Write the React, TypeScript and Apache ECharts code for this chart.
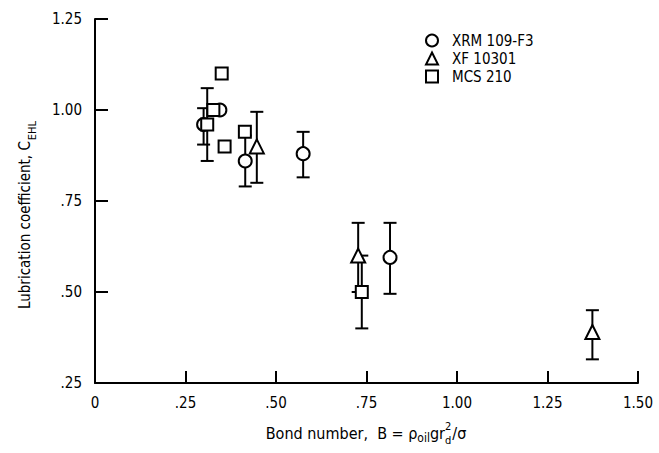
import React, { useEffect, useRef } from "react";
import * as echarts from "echarts";

const FONT = '"DejaVu Sans Condensed", "DejaVu Sans", sans-serif';

// XRM 109-F3 (circles)
const xrmPoints: number[][] = [
  [0.30, 0.96],
  [0.345, 1.0],
  [0.415, 0.86],
  [0.575, 0.88],
  [0.815, 0.595],
];
const xrmErrors: number[][] = [
  [0.30, 0.905, 1.005],
  [0.415, 0.79, 0.93],
  [0.575, 0.815, 0.94],
  [0.815, 0.495, 0.69],
];

// XF 10301 (triangles)
const xfPoints: number[][] = [
  [0.447, 0.90],
  [0.727, 0.60],
  [1.374, 0.39],
];
const xfErrors: number[][] = [
  [0.447, 0.80, 0.995],
  [0.727, 0.50, 0.69],
  [1.374, 0.315, 0.45],
];

// MCS 210 (squares)
const mcsPoints: number[][] = [
  [0.31, 0.96],
  [0.327, 1.0],
  [0.35, 1.10],
  [0.358, 0.90],
  [0.414, 0.94],
  [0.737, 0.50],
];
const mcsErrors: number[][] = [
  [0.31, 0.86, 1.06],
  [0.737, 0.40, 0.60],
];

const seriesNames = ["XRM 109-F3", "XF 10301", "MCS 210"];
const xTickLabels: Record<string, string> = {
  "0": "0", "0.25": ".25", "0.5": ".50", "0.75": ".75", "1": "1.00", "1.25": "1.25", "1.5": "1.50",
};
const yTickLabels: Record<string, string> = {
  "0.25": ".25", "0.5": ".50", "0.75": ".75", "1": "1.00", "1.25": "1.25",
};

function errorRender(params: any, api: any) {
  const x = api.value(0);
  const lo = api.coord([x, api.value(1)]);
  const hi = api.coord([x, api.value(2)]);
  const cap = 6.5;
  const style = { stroke: "#000", lineWidth: 2 };
  return {
    type: "group",
    children: [
      { type: "line", shape: { x1: lo[0], y1: lo[1], x2: hi[0], y2: hi[1] }, style },
      { type: "line", shape: { x1: lo[0] - cap, y1: lo[1], x2: lo[0] + cap, y2: lo[1] }, style },
      { type: "line", shape: { x1: hi[0] - cap, y1: hi[1], x2: hi[0] + cap, y2: hi[1] }, style },
    ],
  };
}

export default function App() {
  const ref = useRef<HTMLDivElement>(null);
  useEffect(() => {
    if (!ref.current) return;
    const chart = echarts.init(ref.current, undefined, { renderer: "svg" });

    const cv = document.createElement("canvas").getContext("2d")!;
    const mw = (t: string, s: number) => {
      cv.font = `${s}px ${FONT}`;
      return cv.measureText(t).width;
    };
    const big = 16;
    const small = 12;
    const tiny = 11;
    const t1 = "Bond number,  B = ρ";
    const t2 = "oil";
    const t3 = "gr";
    const t4 = "2";
    const t5 = "/σ";
    const w1 = mw(t1, big), w2 = mw(t2, small), w3 = mw(t3, big), w4 = Math.max(mw(t4, tiny), mw("d", tiny)) + 1, w5 = mw(t5, big);
    const total = w1 + w2 + w3 + w4 + w5;
    const x0 = 366 - total / 2;
    const mid = 433;
    const txt = (text: string, x: number, y: number, size: number) => ({
      type: "text",
      x,
      y,
      style: { text, font: `${size}px ${FONT}`, fill: "#000", align: "left", verticalAlign: "middle" },
    });
    const xName = [
      txt(t1, x0, mid, big),
      txt(t2, x0 + w1, mid + 5, small),
      txt(t3, x0 + w1 + w2, mid, big),
      txt(t4, x0 + w1 + w2 + w3, mid - 7, tiny),
      txt("d", x0 + w1 + w2 + w3, mid + 7, tiny),
      txt(t5, x0 + w1 + w2 + w3 + w4, mid, big),
    ];

    const scatter = (name: string, data: number[][], symbol: string, size: number) => ({
      type: "scatter",
      name,
      data,
      symbol,
      symbolSize: size,
      itemStyle: { color: "#fff", borderColor: "#000", borderWidth: 2, opacity: 1 },
      z: 3,
    });
    const errs = (name: string, data: number[][]) => ({
      type: "custom",
      name,
      data,
      renderItem: errorRender,
      encode: { x: 0, y: [1, 2] },
      z: 2,
    });

    chart.setOption({
      animation: false,
      backgroundColor: "#fff",
      textStyle: { fontFamily: FONT },
      grid: { left: 95, right: 21, top: 19, bottom: 70, containLabel: false },
      xAxis: {
        type: "value",
        min: 0,
        max: 1.5,
        interval: 0.25,
        axisLine: { show: true, lineStyle: { color: "#000", width: 2 } },
        axisTick: { show: true, inside: true, length: 12, lineStyle: { color: "#000", width: 2 } },
        axisLabel: {
          color: "#000",
          fontSize: 15,
          fontFamily: FONT,
          margin: 12,
          formatter: (v: number) => xTickLabels[String(v)] ?? String(v),
        },
        splitLine: { show: false },
      },
      yAxis: {
        type: "value",
        min: 0.25,
        max: 1.25,
        interval: 0.25,
        axisLine: { show: true, lineStyle: { color: "#000", width: 2 } },
        axisTick: { show: true, inside: true, length: 13, lineStyle: { color: "#000", width: 2 } },
        axisLabel: {
          color: "#000",
          fontSize: 15,
          fontFamily: FONT,
          margin: 13,
          formatter: (v: number) => yTickLabels[String(v)] ?? String(v),
        },
        splitLine: { show: false },
      },
      legend: {
        data: seriesNames,
        orient: "vertical",
        left: 420,
        top: 28,
        itemWidth: 12,
        itemHeight: 12,
        itemGap: 3,
        textStyle: { color: "#000", fontSize: 15, fontFamily: FONT, lineHeight: 15, padding: [0, 0, 0, 9] },
      },
      graphic: [
        {
          type: "text",
          x: 25,
          y: 215,
          rotation: Math.PI / 2,
          style: {
            text: "Lubrication coefficient, C{sub|EHL}",
            font: `15px ${FONT}`,
            fill: "#000",
            align: "center",
            verticalAlign: "middle",
            rich: {
              sub: { fontSize: 11, fontFamily: FONT, verticalAlign: "bottom", lineHeight: 11, padding: [0, 0, 0, 1] },
            },
            lineHeight: 26,
          },
        },
        ...xName,
      ],
      series: [
        errs("xrm-err", xrmErrors),
        errs("xf-err", xfErrors),
        errs("mcs-err", mcsErrors),
        scatter(seriesNames[0], xrmPoints, "circle", 13),
        scatter(seriesNames[1], xfPoints, "triangle", 14),
        scatter(seriesNames[2], mcsPoints, "rect", 12),
      ],
    });
    return () => chart.dispose();
  }, []);
  return <div ref={ref} style={{ position: "fixed", left: 0, top: 0, width: 659, height: 453 }} />;
}
